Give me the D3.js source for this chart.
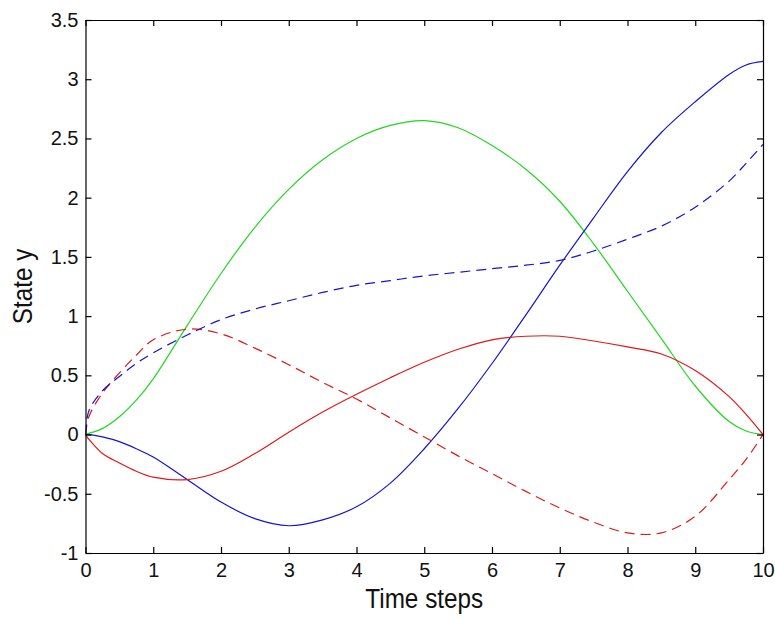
<!DOCTYPE html>
<html>
<head>
<meta charset="utf-8">
<script src="https://cdn.jsdelivr.net/npm/d3@7"></script>
<style>
  html, body { margin: 0; padding: 0; background: #fff; }
  svg { display: block; }
  text { font-family: "Liberation Sans", Arial, Helvetica, sans-serif; fill: #111; }
</style>
</head>
<body>
<svg id="chart" width="775" height="618"></svg>
<script>
// Sample times (shared by every state trajectory)
const timeSteps = [0, 0.05, 0.25, 0.5, 0.75, 1, 1.5, 2, 2.5, 3, 3.5, 4, 4.5, 5,
                   5.5, 6, 6.5, 7, 7.5, 8, 8.5, 9, 9.5, 9.75, 10];

// State trajectories
const greenSolid = [0, 0.01, 0.05, 0.15, 0.29, 0.47, 0.92, 1.36, 1.75, 2.07, 2.32, 2.50, 2.61, 2.65,
                    2.59, 2.44, 2.24, 1.97, 1.61, 1.21, 0.81, 0.41, 0.11, 0.03, 0];
const blueSolid  = [0, 0, -0.02, -0.06, -0.12, -0.19, -0.38, -0.57, -0.71, -0.77, -0.72, -0.61, -0.41, -0.12,
                    0.22, 0.60, 1.01, 1.43, 1.83, 2.22, 2.55, 2.81, 3.04, 3.12, 3.15];
const redSolid   = [0, -0.04, -0.16, -0.24, -0.31, -0.36, -0.38, -0.31, -0.16, 0.02, 0.19, 0.34, 0.48, 0.61,
                    0.72, 0.80, 0.83, 0.83, 0.79, 0.74, 0.68, 0.54, 0.32, 0.17, 0];
const redDashed  = [0, 0.15, 0.35, 0.52, 0.67, 0.80, 0.89, 0.85, 0.73, 0.59, 0.44, 0.30, 0.14, -0.02,
                    -0.18, -0.33, -0.48, -0.62, -0.74, -0.83, -0.83, -0.69, -0.38, -0.21, 0];
const blueDashed = [0, 0.20, 0.37, 0.49, 0.60, 0.69, 0.84, 0.97, 1.06, 1.13, 1.20, 1.26, 1.30, 1.34,
                    1.37, 1.40, 1.43, 1.47, 1.55, 1.65, 1.76, 1.92, 2.14, 2.29, 2.45];

// Axis ticks
const xTickValues = [0, 1, 2, 3, 4, 5, 6, 7, 8, 9, 10];
const yTickValues = [-1, -0.5, 0, 0.5, 1, 1.5, 2, 2.5, 3, 3.5];

const xLabel = "Time steps";
const yLabel = "State y";

const series = [
  { values: greenSolid, color: "#1fd81f", dash: null },
  { values: blueSolid,  color: "#1414d2", dash: null },
  { values: redSolid,   color: "#e01818", dash: null },
  { values: redDashed,  color: "#e01818", dash: "10,6" },
  { values: blueDashed, color: "#1414d2", dash: "10,6" }
];

const svg = d3.select("#chart");
svg.append("rect").attr("width", 775).attr("height", 618).attr("fill", "#fff");

const plotLeft = 85.5, plotRight = 763, plotTop = 20, plotBottom = 553;
const x = d3.scaleLinear().domain([0, 10]).range([plotLeft, plotRight]);
const y = d3.scaleLinear().domain([-1, 3.5]).range([plotBottom, plotTop]);

// Plot area clip
svg.append("clipPath").attr("id", "plotClip")
  .append("rect").attr("x", plotLeft).attr("y", plotTop)
  .attr("width", plotRight - plotLeft).attr("height", plotBottom - plotTop);

const line = d3.line()
  .x((d, i) => x(timeSteps[i]))
  .y(d => y(d))
  .curve(d3.curveCatmullRom.alpha(0.5));

const plot = svg.append("g").attr("clip-path", "url(#plotClip)");
series.forEach(s => {
  plot.append("path")
    .attr("d", line(s.values))
    .attr("fill", "none")
    .attr("stroke", s.color)
    .attr("stroke-width", 1.2)
    .attr("stroke-dasharray", s.dash);
});

const fmt = d => String(d);
const tickLen = 6;

// Bottom axis with labels
const gx = svg.append("g").attr("transform", `translate(0,${plotBottom})`)
  .call(d3.axisBottom(x).tickValues(xTickValues).tickFormat(fmt)
    .tickSizeInner(-tickLen).tickSizeOuter(0).tickPadding(10));
// Left axis with labels
const gy = svg.append("g").attr("transform", `translate(${plotLeft},0)`)
  .call(d3.axisLeft(y).tickValues(yTickValues).tickFormat(fmt)
    .tickSizeInner(-tickLen).tickSizeOuter(0).tickPadding(7));
// Top and right axes: ticks only
const gt = svg.append("g").attr("transform", `translate(0,${plotTop})`)
  .call(d3.axisTop(x).tickValues(xTickValues).tickFormat("")
    .tickSizeInner(-tickLen).tickSizeOuter(0));
const gr = svg.append("g").attr("transform", `translate(${plotRight},0)`)
  .call(d3.axisRight(y).tickValues(yTickValues).tickFormat("")
    .tickSizeInner(-tickLen).tickSizeOuter(0));

[gx, gy, gt, gr].forEach(g => {
  g.selectAll(".domain").attr("stroke", "#000").attr("stroke-width", 1.2);
  g.selectAll(".tick line").attr("stroke", "#000").attr("stroke-width", 1.2);
  g.selectAll(".tick text")
    .attr("fill", "#111")
    .style("font-family", '"Liberation Sans", Arial, sans-serif')
    .style("font-size", "20px");
});

// Axis titles
svg.append("text")
  .attr("transform", `translate(${(plotLeft + plotRight) / 2},608) scale(0.9,1)`)
  .attr("text-anchor", "middle")
  .style("font-size", "27px")
  .text(xLabel);

svg.append("text")
  .attr("transform", `translate(32,${(plotTop + plotBottom) / 2}) rotate(-90) scale(0.9,1)`)
  .attr("text-anchor", "middle")
  .style("font-size", "27px")
  .text(yLabel);
</script>
</body>
</html>
